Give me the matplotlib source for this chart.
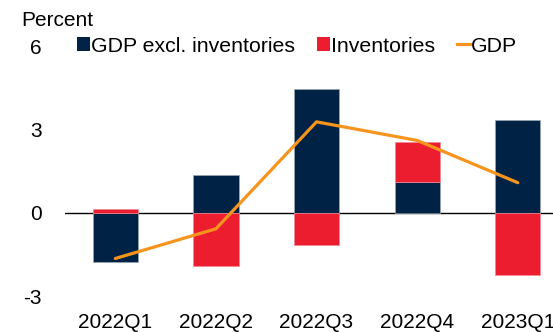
import numpy as np
import matplotlib.pyplot as plt
from matplotlib.patches import Patch
from matplotlib.lines import Line2D

quarters = ["2022Q1", "2022Q2", "2022Q3", "2022Q4", "2023Q1"]
gdp_excl_inv = [-1.78, 1.34, 4.47, 1.10, 3.34]
inventories = [0.15, -1.92, -1.18, 1.46, -2.26]
gdp = [-1.65, -0.58, 3.27, 2.60, 1.08]

navy = "#002244"
red = "#EC1D2F"
orange = "#F7941D"

plt.rcParams["font.family"] = ["Liberation Sans", "DejaVu Sans"]
plt.rcParams["font.size"] = 15

fig = plt.figure(figsize=(5.53, 3.32), dpi=100)
ax = fig.add_axes([65 / 553, 36 / 332, 1 - 65 / 553, 250 / 332])

x = np.arange(len(quarters))
excl = np.array(gdp_excl_inv)
inv = np.array(inventories)
# inventories stack on top of the other bar only when both share a sign
inv_bottom = np.where(np.sign(inv) == np.sign(excl), excl, 0)

ax.axhline(0, color="black", lw=1, zorder=1)
ax.bar(x, excl, width=0.45, color=navy, edgecolor="#9aa6b6", linewidth=0.5, zorder=2)
ax.bar(x, inv, width=0.45, bottom=inv_bottom, color=red, edgecolor="#f08a94",
       linewidth=0.5, zorder=2)
ax.plot(x, gdp, color=orange, lw=2.3, solid_capstyle="round", zorder=3)

ax.set_xlim(-0.5, 4.35)
ax.set_ylim(-3, 6)
ax.set_yticks([-3, 0, 3, 6])
ax.set_yticklabels(["-3", "0", "3", "6"])
ax.set_xticks(x)
ax.set_xticklabels(quarters)
ax.tick_params(axis="both", length=0)
ax.tick_params(axis="y", pad=17)
ax.tick_params(axis="x", pad=12)
for s in ax.spines.values():
    s.set_visible(False)

fig.text(21 / 553, 1 - 20 / 332, "Percent", va="center", ha="left")

handles = [
    Patch(facecolor=navy, edgecolor="none"),
    Patch(facecolor=red, edgecolor="none"),
    Line2D([0], [0], color=orange, lw=2.3),
]
fig.legend(handles, ["GDP excl. inventories", "Inventories", "GDP"],
           loc="center left", bbox_to_anchor=(77 / 553, 1 - 46 / 332),
           ncol=3, frameon=False, fontsize=15.3, handlelength=0.6, handleheight=0.62,
           handletextpad=0.05, columnspacing=1.05, borderpad=0, borderaxespad=0)

fig.savefig("out.png", dpi=100)
